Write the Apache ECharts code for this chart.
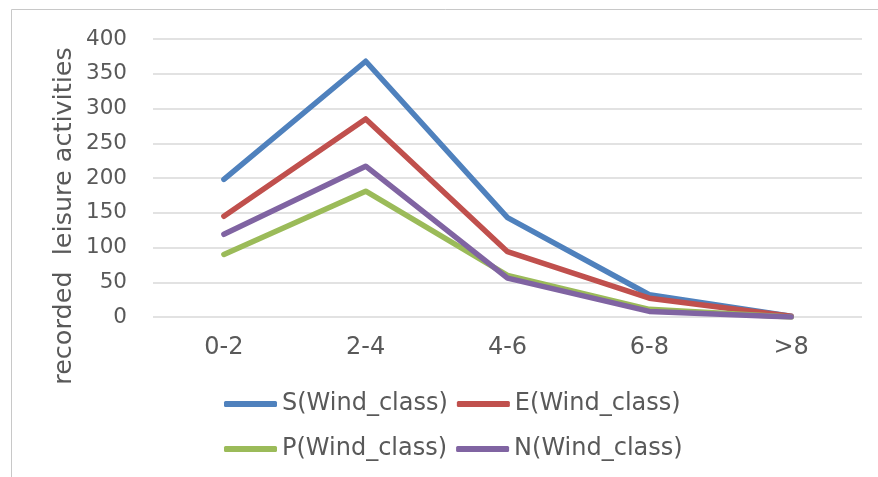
<!DOCTYPE html>
<html><head><meta charset="utf-8">
<script src="https://cdn.jsdelivr.net/npm/echarts@6/dist/echarts.min.js"></script>
<style>html,body{margin:0;padding:0;background:#fff}#c{width:878px;height:477px}</style>
</head><body><div id="c"></div>
<script>
const categories = ['0-2', '2-4', '4-6', '6-8', '>8'];
const seriesNames = ['S(Wind_class)', 'E(Wind_class)', 'P(Wind_class)', 'N(Wind_class)'];
const sValues = [198, 368, 143, 32, 1];
const eValues = [145, 285, 94, 27, 1];
const pValues = [90, 181, 60, 11, 0];
const nValues = [119, 217, 56, 8, 0];
const yTicks = [0, 50, 100, 150, 200, 250, 300, 350, 400];
const colors = ['#4F81BD', '#C0504D', '#9BBB59', '#8064A2'];
const font = '"DejaVu Sans", Verdana, sans-serif';
const allValues = [sValues, eValues, pValues, nValues];

const chart = echarts.init(document.getElementById('c'), null, {renderer: 'canvas'});
const legendCommon = {
  orient: 'horizontal', itemWidth: 53, itemHeight: 6, icon: 'roundRect', itemGap: 9,
  textStyle: {fontFamily: font, fontSize: 24, color: '#595959'}
};
chart.setOption({
  animation: false,
  backgroundColor: '#fff',
  color: colors,
  graphic: [
    {type: 'rect', shape: {x: 11.5, y: 9.5, width: 870, height: 470}, style: {fill: 'none', stroke: '#c8c8c8', lineWidth: 1}},
    {type: 'text', x: 64, y: 216, rotation: Math.PI / 2,
     style: {text: 'recorded  leisure activities', font: '25.5px ' + font, fill: '#595959', textAlign: 'center', textVerticalAlign: 'middle'}}
  ],
  grid: {left: 153, right: 16, top: 39, bottom: 160, containLabel: false},
  legend: [
    Object.assign({data: seriesNames.slice(0, 2), left: 219, top: 387}, legendCommon),
    Object.assign({data: seriesNames.slice(2, 4), left: 219, top: 432}, legendCommon)
  ],
  xAxis: {
    type: 'category', data: categories, boundaryGap: true,
    axisLine: {show: false}, axisTick: {show: false},
    axisLabel: {fontFamily: font, fontSize: 24, color: '#595959', margin: 19}
  },
  yAxis: {
    type: 'value', min: 0, max: 400, interval: 50,
    axisLine: {show: false}, axisTick: {show: false},
    axisLabel: {fontFamily: font, fontSize: 21.5, color: '#595959', margin: 26,
      formatter: v => yTicks.includes(v) ? String(v) : ''},
    splitLine: {lineStyle: {color: '#d9d9d9', width: 1.5}}
  },
  series: seriesNames.map((name, i) => ({
    name, type: 'line', data: allValues[i], symbol: 'none',
    lineStyle: {width: 5.5, color: colors[i], cap: 'round', join: 'round'},
    itemStyle: {color: colors[i]}
  }))
});
</script></body></html>
